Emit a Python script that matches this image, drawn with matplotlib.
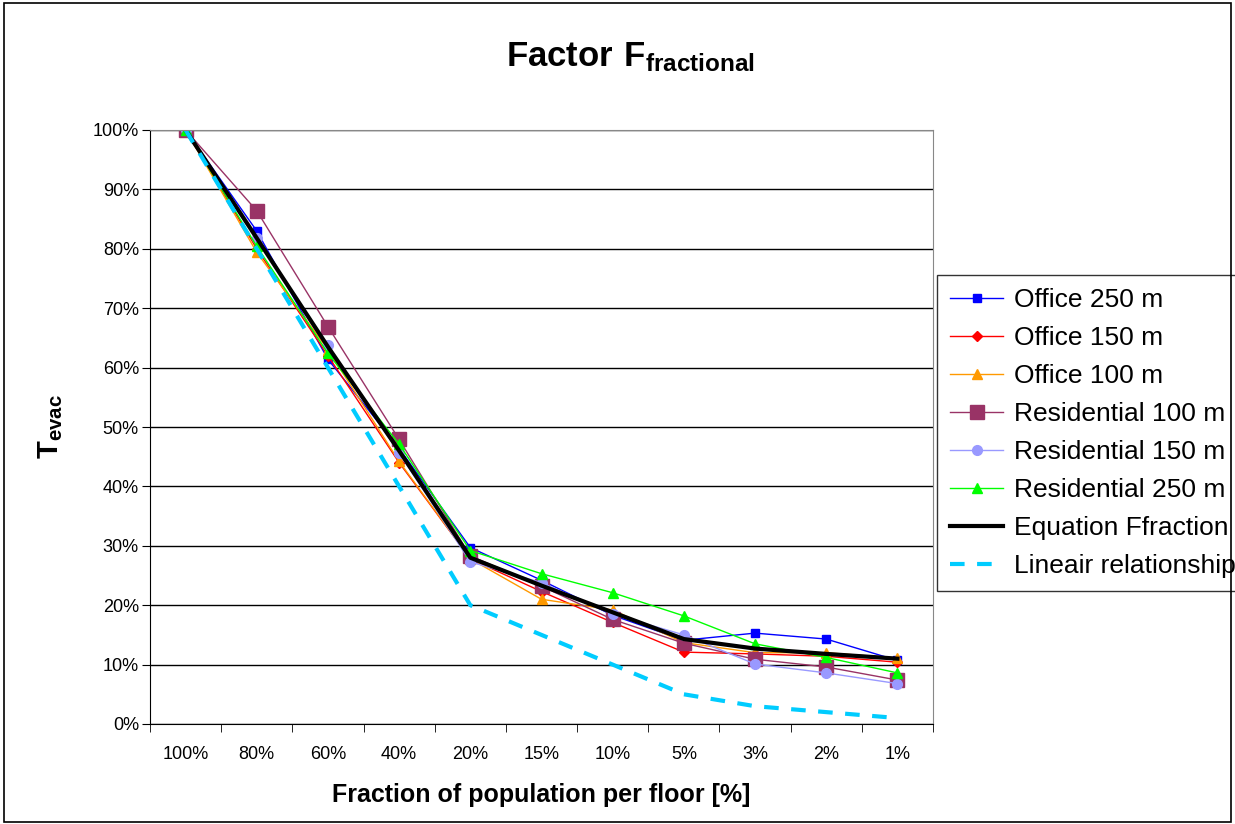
import matplotlib
matplotlib.use("Agg")
import matplotlib.pyplot as plt
from matplotlib.patches import Rectangle
from matplotlib.ticker import FixedLocator, NullFormatter

plt.rcParams['font.family'] = ['Liberation Sans', 'DejaVu Sans']
plt.rcParams['mathtext.fontset'] = 'custom'
plt.rcParams['mathtext.rm'] = 'Liberation Sans'
plt.rcParams['mathtext.bf'] = 'Liberation Sans:bold'

# fraction of population per floor
categories = ['100%', '80%', '60%', '40%', '20%', '15%', '10%', '5%', '3%', '2%', '1%']

# T_evac in %
office_250 = [100, 83.0, 61.4, 46.4, 29.7, 24.2, 18.3, 14.1, 15.3, 14.3, 10.7]
office_150 = [100, 80.0, 62.0, 44.0, 27.8, 22.3, 17.1, 12.1, 11.8, 11.4, 10.4]
office_100 = [100, 79.4, 63.0, 44.2, 27.8, 21.0, 19.2, 13.7, 12.0, 12.0, 11.1]
resid_100 = [100, 86.4, 66.9, 47.9, 28.3, 23.2, 17.6, 13.6, 10.9, 9.6, 7.4]
resid_150 = [100, 81.8, 63.8, 45.6, 27.3, 23.8, 18.5, 15.0, 10.1, 8.6, 6.8]
resid_250 = [100, 80.4, 62.4, 47.1, 29.2, 25.3, 22.1, 18.2, 13.5, 11.2, 8.6]
equation = [100, 81.8, 63.5, 46.0, 28.0, 23.3, 18.8, 14.3, 12.7, 11.8, 11.0]
linear = [100, 80, 60, 40, 20, 15, 10, 5, 3, 2, 1]

fig = plt.figure(figsize=(12.35, 8.24), dpi=100)
ax = fig.add_axes([150/1235, 1-724/824, 783/1235, 594/824])

x = list(range(len(categories)))

ax.plot(x, office_250, color='#0000FF', lw=1, marker='s', ms=6, label='Office 250 m')
ax.plot(x, office_150, color='#FF0000', lw=1, marker='D', ms=5, label='Office 150 m')
ax.plot(x, office_100, color='#FF9900', lw=1, marker='^', ms=7, label='Office 100 m')
ax.plot(x, resid_100, color='#993366', lw=1, marker='s', ms=10, label='Residential 100 m')
ax.plot(x, resid_150, color='#9999FF', lw=1, marker='o', ms=7, label='Residential 150 m')
ax.plot(x, resid_250, color='#00FF00', lw=1, marker='^', ms=7, label='Residential 250 m')
ax.plot(x, equation, color='black', lw=3, label='Equation Ffraction')
ax.plot(x, linear, color='#00CCFF', lw=3, ls=(0, (3.5, 3)), label='Lineair relationship')

ax.set_xlim(-0.5, len(categories) - 0.5)
ax.set_ylim(0, 100)
ax.set_yticks(range(0, 101, 10))
ax.set_yticklabels([f'{v}%' for v in range(0, 101, 10)], fontsize=13)
ax.yaxis.grid(True, color='black', lw=1)
ax.set_axisbelow(True)

ax.set_xticks(x)
ax.set_xticklabels(categories, fontsize=13)
ax.tick_params(axis='x', which='major', length=0, pad=16)
ax.xaxis.set_minor_locator(FixedLocator([i + 0.5 for i in range(-1, len(categories))]))
ax.xaxis.set_minor_formatter(NullFormatter())
ax.tick_params(axis='x', which='minor', length=6, direction='out', color='black')
ax.tick_params(axis='y', length=6, direction='out', color='black', pad=2)

for side in ['left', 'bottom']:
    ax.spines[side].set_color('black')
for side in ['top', 'right']:
    ax.spines[side].set_color('#888888')

ax.set_xlabel('Fraction of population per floor [%]', fontsize=18, fontweight='bold', labelpad=14)
ax.set_ylabel(r'$\mathbf{T_{evac}}$', fontsize=21, labelpad=20)

fig.text(630/1235, 1-57/824, r'$\mathbf{Factor\ F_{fractional}}$', fontsize=25,
         ha='center', va='center')

# legend runs past the right edge, as in the original
leg = ax.legend(loc='upper left', bbox_to_anchor=(937/1235, 1-275/824),
                bbox_transform=fig.transFigure, fontsize=19, frameon=True,
                fancybox=False, edgecolor='black', handlelength=2.0,
                borderaxespad=0, labelspacing=0.53, handletextpad=0.4,
                borderpad=0.5)
leg.get_frame().set_linewidth(1)

fig.patches.append(Rectangle((0.003, 0.003), 0.994, 0.993, transform=fig.transFigure,
                             fill=False, edgecolor='black', lw=1.2))

fig.savefig('out.png', dpi=100)
